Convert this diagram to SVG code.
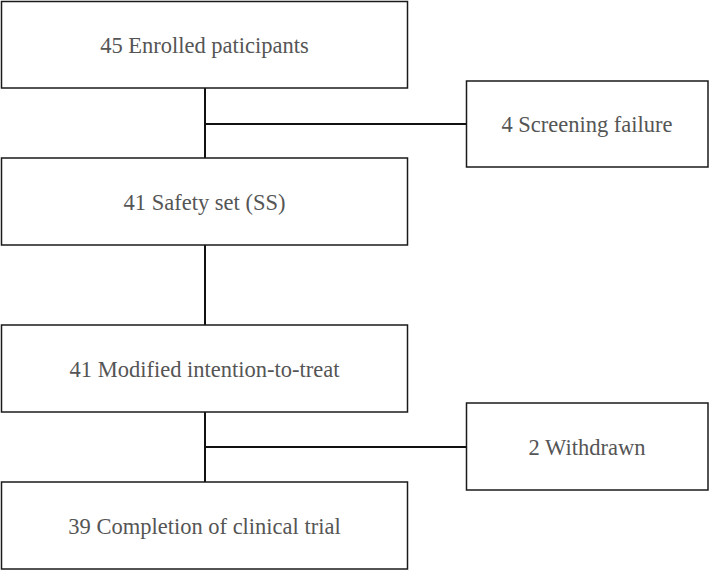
<svg xmlns="http://www.w3.org/2000/svg" width="709" height="570" viewBox="0 0 709 570">
<style>
.box{fill:#fff;stroke:#1a1a1a;stroke-width:1.5}
.lbl{font-family:"Liberation Serif",serif;font-size:22.5px;fill:#555;text-anchor:middle}
.con{stroke:#111;stroke-width:2;fill:none}
</style>
<rect width="709" height="570" fill="#fff"/>
<g id="connectors">
<line class="con" x1="205" y1="88" x2="205" y2="158"/>
<line class="con" x1="205" y1="124" x2="467" y2="124"/>
<line class="con" x1="205" y1="245" x2="205" y2="325"/>
<line class="con" x1="205" y1="412" x2="205" y2="482"/>
<line class="con" x1="205" y1="447" x2="467" y2="447"/>
</g>
<g id="n1"><rect class="box" x="1.5" y="1.5" width="406" height="86.5"/><text class="lbl" x="204.5" y="53">45 Enrolled paticipants</text></g>
<g id="n2"><rect class="box" x="466.5" y="81" width="241.5" height="86"/><text class="lbl" x="587" y="132">4 Screening failure</text></g>
<g id="n3"><rect class="box" x="1.5" y="158" width="406" height="87"/><text class="lbl" x="204.5" y="210">41 Safety set (SS)</text></g>
<g id="n4"><rect class="box" x="1.5" y="325" width="406" height="87"/><text class="lbl" x="204.5" y="377">41 Modified intention-to-treat</text></g>
<g id="n5"><rect class="box" x="466.5" y="403" width="241.5" height="87"/><text class="lbl" x="587" y="455">2 Withdrawn</text></g>
<g id="n6"><rect class="box" x="1.5" y="482" width="406" height="87"/><text class="lbl" x="204.5" y="534">39 Completion of clinical trial</text></g>
</svg>
